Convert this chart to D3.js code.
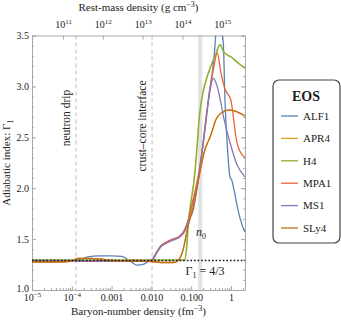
<!DOCTYPE html>
<html>
<head>
<meta charset="utf-8">
<script src="https://cdn.jsdelivr.net/npm/d3@7"></script>
<style>
  body { margin: 0; background: #fff; }
  svg { display: block; }
  text { font-family: "Liberation Serif", "Times New Roman", serif; fill: #222; }
</style>
</head>
<body>
<svg></svg>
<script>
// EOS names / colours
const eosNames = ['ALF1', 'APR4', 'H4', 'MPA1', 'MS1', 'SLy4'];
const eosColors = ['#5e81b5', '#e19c24', '#8fb032', '#eb6235', '#8778b3', '#c56e1a'];

// baryon-number density (fm^-3) and adiabatic index
const alf1N = [1e-5, 3e-5, 1e-4, 1.6e-4, 2.5e-4, 5e-4, 1e-3, 1.8e-3, 2.8e-3, 4.4e-3, 6.5e-3, 9e-3, 0.0104, 0.013, 0.017, 0.024, 0.035, 0.052, 0.07, 0.085, 0.1, 0.125, 0.151, 0.2, 0.27, 0.42, 0.5, 0.583, 0.643, 0.706, 0.8, 0.944, 1.04, 1.2, 1.39, 1.6, 1.9, 2.25];
const alf1G = [1.295, 1.29, 1.29, 1.30, 1.325, 1.335, 1.335, 1.33, 1.29, 1.245, 1.255, 1.29, 1.30, 1.36, 1.43, 1.47, 1.50, 1.53, 1.60, 1.69, 1.80, 1.96, 2.10, 2.45, 2.87, 3.55, 4.3, 3.55, 3.42, 2.87, 2.45, 2.11, 2.08, 1.98, 1.85, 1.74, 1.64, 1.57];

const apr4N = [1e-5, 5e-5, 1e-4, 1.4e-4, 3e-4, 5e-4, 1e-3, 3e-3, 0.01, 0.02, 0.035, 0.047, 0.0622, 0.0845, 0.113, 0.151, 0.222, 0.297, 0.437, 0.63, 0.944, 1.42, 2.25];
const apr4G = [1.275, 1.275, 1.285, 1.31, 1.31, 1.305, 1.29, 1.285, 1.28, 1.27, 1.27, 1.29, 1.39, 1.64, 1.82, 2.08, 2.38, 2.50, 2.69, 2.75, 2.77, 2.75, 2.71];

const h4N = [1e-5, 1e-4, 1e-3, 0.01, 0.03, 0.06, 0.0698, 0.078, 0.0845, 0.1, 0.12, 0.14, 0.16, 0.2, 0.245, 0.3, 0.4, 0.53, 0.65, 0.8, 1.0, 1.4, 1.9, 2.25];
const h4G = [1.295, 1.295, 1.295, 1.295, 1.295, 1.295, 1.30, 1.45, 1.65, 1.88, 2.10, 2.40, 2.70, 2.95, 3.08, 3.18, 3.30, 3.41, 3.34, 3.31, 3.29, 3.24, 3.20, 3.18];

const mpa1N = [1e-5, 1e-4, 1e-3, 5e-3, 0.0104, 0.013, 0.017, 0.024, 0.035, 0.052, 0.07, 0.085, 0.1, 0.125, 0.15, 0.2, 0.245, 0.359, 0.453, 0.55, 0.7, 0.85, 1.0, 1.15, 1.3, 1.45, 1.7, 2.0, 2.25];
const mpa1G = [1.285, 1.285, 1.285, 1.285, 1.29, 1.36, 1.43, 1.47, 1.50, 1.53, 1.60, 1.69, 1.80, 1.97, 2.12, 2.45, 2.74, 3.16, 3.33, 3.15, 2.98, 2.92, 2.86, 2.70, 2.53, 2.43, 2.36, 2.32, 2.30];

const ms1N = [1e-5, 1e-4, 1e-3, 5e-3, 0.0104, 0.013, 0.017, 0.024, 0.035, 0.052, 0.07, 0.085, 0.113, 0.151, 0.222, 0.297, 0.359, 0.45, 0.55, 0.65, 0.78, 1.06, 1.42, 2.25];
const ms1G = [1.285, 1.285, 1.285, 1.285, 1.29, 1.35, 1.42, 1.46, 1.49, 1.52, 1.58, 1.67, 1.79, 2.08, 2.57, 2.96, 3.08, 3.00, 2.85, 2.70, 2.57, 2.38, 2.23, 2.11];

const sly4N = [1e-5, 5e-5, 1e-4, 1.4e-4, 3e-4, 5e-4, 1e-3, 3e-3, 0.01, 0.02, 0.035, 0.047, 0.0622, 0.0845, 0.113, 0.151, 0.222, 0.297, 0.437, 0.63, 0.944, 1.42, 2.25];
const sly4G = [1.275, 1.275, 1.285, 1.31, 1.31, 1.305, 1.29, 1.285, 1.28, 1.27, 1.27, 1.29, 1.39, 1.64, 1.82, 2.08, 2.38, 2.50, 2.69, 2.75, 2.77, 2.75, 2.71];

const seriesN = [alf1N, apr4N, h4N, mpa1N, ms1N, sly4N];
const seriesG = [alf1G, apr4G, h4G, mpa1G, ms1G, sly4G];

// reference values
const nDrip = 1.28e-4;
const nCrustCore = 0.0104;
const n0Band = [0.15, 0.19];
const gammaRef = 1.29;

// tick labels
const xTickVals = [1e-5, 1e-4, 1e-3, 1e-2, 1e-1, 1];
const xTickLabels = [['10', '\u22125'], ['10', '\u22124'], ['0.001'], ['0.010'], ['0.100'], ['1']];
const topTickVals = [1e11, 1e12, 1e13, 1e14, 1e15];
const topTickLabels = [['10', '11'], ['10', '12'], ['10', '13'], ['10', '14'], ['10', '15']];
const yTickVals = [1.0, 1.5, 2.0, 2.5, 3.0, 3.5];
const massUnit = 1.66e15; // g cm^-3 per fm^-3

const W = 341, H = 323;
const pL = 32, pR = 245, pT = 35.5, pB = 290;

const svg = d3.select('svg').attr('width', W).attr('height', H);

const x = d3.scaleLog().domain([1e-5, 2.25]).range([pL, pR]);
const xTop = d3.scaleLog().domain([1e-5 * massUnit, 2.25 * massUnit]).range([pL, pR]);
const y = d3.scaleLinear().domain([1, 3.5]).range([pB, pT]);

svg.append('defs').append('clipPath').attr('id', 'clip')
    .append('rect').attr('x', pL).attr('y', pT)
    .attr('width', pR - pL).attr('height', pB - pT);

// n0 band
svg.append('rect')
    .attr('x', x(n0Band[0])).attr('y', pT)
    .attr('width', x(n0Band[1]) - x(n0Band[0])).attr('height', pB - pT)
    .attr('fill', '#e2e2e2');

// dashed markers
[nDrip, nCrustCore].forEach(v => {
    svg.append('line')
        .attr('x1', x(v)).attr('x2', x(v)).attr('y1', pT).attr('y2', pB)
        .attr('stroke', '#bdbdbd').attr('stroke-width', 1)
        .attr('stroke-dasharray', '4,3');
});

// axes
const minorX = [];
for (let e = -5; e <= 0; e++) for (let k = 2; k <= 9; k++) {
    const v = k * Math.pow(10, e);
    if (v <= 2.25) minorX.push(v);
}
const minorY = d3.range(1.0, 3.51, 0.1).map(v => +v.toFixed(1));

function styleAxis(g) {
    g.select('.domain').attr('stroke', '#a8a8a8');
    g.selectAll('.tick line').attr('stroke', '#a8a8a8');
    g.selectAll('.tick text').remove();
}

svg.append('g').attr('transform', `translate(0,${pB})`)
    .call(d3.axisBottom(x).tickValues(minorX).tickSize(-2).tickSizeOuter(0)).call(styleAxis);
const gx = svg.append('g').attr('transform', `translate(0,${pB})`)
    .call(d3.axisBottom(x).tickValues(xTickVals).tickSize(-4).tickSizeOuter(0)).call(styleAxis);
gx.selectAll('.tick').each(function(d, i) {
    const t = d3.select(this).append('text')
        .attr('y', 10.5).attr('text-anchor', 'middle').attr('font-size', 10);
    const lab = xTickLabels[i];
    t.append('tspan').text(lab[0]);
    if (lab[1]) t.append('tspan').attr('dy', -4).attr('font-size', 7).text(lab[1]);
});

const gt = svg.append('g').attr('transform', `translate(0,${pT})`)
    .call(d3.axisTop(xTop).tickValues(topTickVals).tickSize(-4).tickSizeOuter(0)).call(styleAxis);
gt.selectAll('.tick').each(function(d, i) {
    const t = d3.select(this).append('text')
        .attr('y', -8).attr('text-anchor', 'middle').attr('font-size', 10);
    const lab = topTickLabels[i];
    t.append('tspan').text(lab[0]);
    t.append('tspan').attr('dy', -4).attr('font-size', 7).text(lab[1]);
});

svg.append('g').attr('transform', `translate(${pL},0)`)
    .call(d3.axisLeft(y).tickValues(minorY).tickSize(-2).tickSizeOuter(0)).call(styleAxis);
const gy = svg.append('g').attr('transform', `translate(${pL},0)`)
    .call(d3.axisLeft(y).tickValues(yTickVals).tickSize(-4).tickSizeOuter(0)).call(styleAxis);
gy.selectAll('.tick').append('text')
    .attr('x', -3).attr('y', d => d === 1 ? -2 : 0)
    .attr('dy', '0.32em').attr('text-anchor', 'end').attr('font-size', 10)
    .text(d => d.toFixed(1));

svg.append('g').attr('transform', `translate(${pR},0)`)
    .call(d3.axisRight(y).tickValues(minorY).tickSize(-2).tickSizeOuter(0)).call(styleAxis);
svg.append('g').attr('transform', `translate(${pR},0)`)
    .call(d3.axisRight(y).tickValues(yTickVals).tickSize(-4).tickSizeOuter(0)).call(styleAxis);

// curves
const line = d3.line()
    .x(d => x(d[0])).y(d => y(d[1]))
    .curve(d3.curveMonotoneX);

const curves = svg.append('g').attr('clip-path', 'url(#clip)');
eosNames.forEach((name, i) => {
    const pts = seriesN[i].map((n, j) => [n, seriesG[i][j]]);
    curves.append('path')
        .attr('d', line(pts))
        .attr('fill', 'none')
        .attr('stroke', eosColors[i])
        .attr('stroke-width', name === 'H4' ? 1.6 : 1.3);
});

// Gamma = 4/3 reference
svg.append('line')
    .attr('x1', pL).attr('x2', pR).attr('y1', y(gammaRef)).attr('y2', y(gammaRef))
    .attr('stroke', '#111').attr('stroke-width', 1.6).attr('stroke-dasharray', '1.6,2');

// annotations
svg.append('text')
    .attr('transform', `translate(${x(nDrip) - 6},118) rotate(-90)`)
    .attr('text-anchor', 'middle').attr('font-size', 11.5).text('neutron drip');
svg.append('text')
    .attr('transform', `translate(${x(nCrustCore) - 6},126) rotate(-90)`)
    .attr('text-anchor', 'middle').attr('font-size', 11.5).text('crust\u2013core interface');

const n0Text = svg.append('text').attr('x', 201).attr('y', 236)
    .attr('text-anchor', 'middle').attr('font-size', 12).attr('font-style', 'italic');
n0Text.append('tspan').text('n');
n0Text.append('tspan').attr('dy', 3).attr('font-size', 8).attr('font-style', 'normal').text('0');

const gText = svg.append('text').attr('x', 205).attr('y', 275)
    .attr('text-anchor', 'middle').attr('font-size', 12);
gText.append('tspan').text('\u0393');
gText.append('tspan').attr('dy', 3).attr('font-size', 8).text('1');
gText.append('tspan').attr('dy', -3).text(' = 4/3');

// axis titles
const xt = svg.append('text').attr('x', (pL + pR) / 2).attr('y', 315)
    .attr('text-anchor', 'middle').attr('font-size', 11);
xt.append('tspan').text('Baryon-number density (fm');
xt.append('tspan').attr('dy', -4).attr('font-size', 8).text('\u22123');
xt.append('tspan').attr('dy', 4).text(')');

const tt = svg.append('text').attr('x', (pL + pR) / 2).attr('y', 11)
    .attr('text-anchor', 'middle').attr('font-size', 11);
tt.append('tspan').text('Rest-mass density (g cm');
tt.append('tspan').attr('dy', -4).attr('font-size', 8).text('\u22123');
tt.append('tspan').attr('dy', 4).text(')');

const yt = svg.append('text')
    .attr('transform', `translate(10,${(pT + pB) / 2}) rotate(-90)`)
    .attr('text-anchor', 'middle').attr('font-size', 11);
yt.append('tspan').text('Adiabatic index: \u0393');
yt.append('tspan').attr('dy', 3).attr('font-size', 8).text('1');

// legend
const lg = svg.append('g');
lg.append('rect').attr('x', 273).attr('y', 80).attr('width', 67).attr('height', 163)
    .attr('rx', 6).attr('fill', '#fff').attr('stroke', '#444').attr('stroke-width', 1.2);
lg.append('text').attr('x', 306).attr('y', 101).attr('text-anchor', 'middle')
    .attr('font-size', 14).attr('font-weight', 'bold').text('EOS');
const ly = d3.scalePoint().domain(eosNames).range([116, 228]);
eosNames.forEach((name, i) => {
    lg.append('line').attr('x1', 281).attr('x2', 298)
        .attr('y1', ly(name)).attr('y2', ly(name))
        .attr('stroke', eosColors[i]).attr('stroke-width', 1.3);
    lg.append('text').attr('x', 303).attr('y', ly(name)).attr('dy', '0.35em')
        .attr('font-size', 11).text(name);
});
</script>
</body>
</html>
